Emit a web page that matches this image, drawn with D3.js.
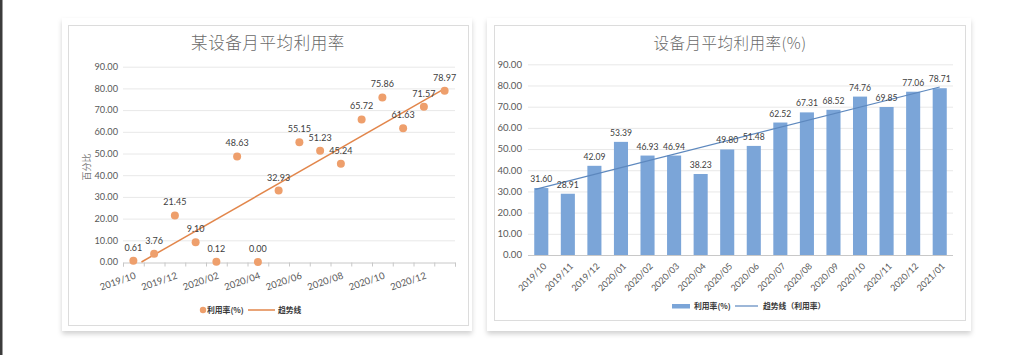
<!DOCTYPE html>
<html><head><meta charset="utf-8">
<script src="https://cdn.jsdelivr.net/npm/d3@7"></script>
<style>
html,body{margin:0;padding:0;background:#fff;}
svg{display:block;}
</style></head>
<body>
<svg id="c" width="1024" height="355"></svg>
<script>
// ---------- data ----------
const monthsLeft = ["2019/10","2019/11","2019/12","2020/01","2020/02","2020/03","2020/04","2020/05","2020/06","2020/07","2020/08","2020/09","2020/10","2020/11","2020/12","2021/01"];
const leftValues = [0.61,3.76,21.45,9.10,0.12,48.63,0.00,32.93,55.15,51.23,45.24,65.72,75.86,61.63,71.57,78.97];
const leftTickLabels = ["2019/10","2019/12","2020/02","2020/04","2020/06","2020/08","2020/10","2020/12"];
const monthsRight = ["2019/10","2019/11","2019/12","2020/01","2020/02","2020/03","2020/04","2020/05","2020/06","2020/07","2020/08","2020/09","2020/10","2020/11","2020/12","2021/01"];
const rightValues = [31.60,28.91,42.09,53.39,46.93,46.94,38.23,49.80,51.48,62.52,67.31,68.52,74.76,69.85,77.06,78.71];
const yTicks = [0,10,20,30,40,50,60,70,80,90];
const leftTitle = "某设备月平均利用率";
const rightTitle = "设备月平均利用率(%)";
const leftYTitle = "百分比";
const leftLegend = ["利用率(%)","趋势线"];
const rightLegend = ["利用率(%)","趋势线（利用率）"];

// ---------- helpers ----------
function regression(vals){
  const n = vals.length;
  const xs = vals.map((v,i)=>i+1);
  const mx = d3.mean(xs), my = d3.mean(vals);
  let sxy=0, sxx=0;
  vals.forEach((v,i)=>{ sxy += (xs[i]-mx)*(v-my); sxx += (xs[i]-mx)*(xs[i]-mx); });
  const b = sxy/sxx, a = my - b*mx;
  return x => a + b*x;  // x is 1-based index
}
const NUM = "Lato, 'Noto Sans', sans-serif";
const CJK = "'Noto Sans CJK SC', 'Noto Sans', sans-serif";

const svg = d3.select("#c");
const defs = svg.append("defs");
const f = defs.append("filter").attr("id","sh").attr("x","-5%").attr("y","-5%").attr("width","110%").attr("height","115%");
f.append("feDropShadow").attr("dx",0).attr("dy",3).attr("stdDeviation",2.5).attr("flood-color","#000").attr("flood-opacity",0.18);

// left dark strip
svg.append("rect").attr("x",0).attr("y",0).attr("width",2.5).attr("height",355).attr("fill","#3c3c3c");

// cards
function card(ox,oy,ow,oh, ix,iy,iw,ih){
  svg.append("rect").attr("x",ox).attr("y",oy).attr("width",ow).attr("height",oh).attr("fill","#fff").attr("filter","url(#sh)");
  svg.append("rect").attr("x",ix+0.5).attr("y",iy+0.5).attr("width",iw).attr("height",ih).attr("fill","#fff").attr("stroke","#dcdcdc").attr("stroke-width",1);
}
card(62,18,410,313, 68,25,400,300);
card(487,18,484,313, 494,25,471,295);

// ================= LEFT CHART =================
{
  const g = svg.append("g");
  const x = d3.scaleLinear().domain([0,16]).range([123,455]);
  const y = d3.scaleLinear().domain([0,90]).range([262,66.7]);

  g.append("text").attr("x",268).attr("y",49).attr("text-anchor","middle")
    .attr("font-family",CJK).attr("font-size",16.5).attr("fill","#6a6a6a").attr("font-weight",300)
    .attr("letter-spacing",0.6).text(leftTitle);

  // grid
  g.selectAll(".gl").data(yTicks.filter(d=>d>0)).join("line")
    .attr("x1",x(0)).attr("x2",x(16)).attr("y1",d=>y(d)+0.5).attr("y2",d=>y(d)+0.5)
    .attr("stroke","#e8e8e8").attr("stroke-width",1);

  // y labels
  g.selectAll(".yl").data(yTicks).join("text")
    .attr("x",118).attr("y",d=>y(d)+3.3).attr("text-anchor","end")
    .attr("font-family",NUM).attr("font-size",9.2).attr("fill","#595959").text(d=>d.toFixed(2));

  // y title
  g.append("text").attr("transform","translate(90,167) rotate(-90)").attr("text-anchor","middle")
    .attr("font-family",CJK).attr("font-size",9).attr("fill","#7a7a7a").text(leftYTitle);

  // x axis
  const xAxis = d3.axisBottom(x).tickValues(d3.range(0,17)).tickSize(4).tickFormat("");
  const ax = g.append("g").attr("transform",`translate(0,${y(0)+0.5})`).call(xAxis);
  ax.select(".domain").attr("stroke","#c8c8c8");
  ax.selectAll(".tick line").attr("stroke","#c8c8c8");

  // x labels
  leftTickLabels.forEach(lbl=>{
    const i = monthsLeft.indexOf(lbl);
    const cx = x(i+0.5)+1, cy = y(0)+10;
    g.append("text").attr("transform",`translate(${cx},${cy}) rotate(-19)`)
      .attr("text-anchor","end").attr("dy","0.7em")
      .attr("font-family",NUM).attr("font-size",9.5).attr("fill","#595959").text(lbl);
  });

  // trendline (clipped at 0)
  const t = regression(leftValues);
  let x0 = 1; if (t(1) < 0) { const b = t(2)-t(1); x0 = 1 - t(1)/b; }
  const xStart = x(x0-0.5), xEnd = x(16-0.5);
  g.append("line").attr("x1",xStart).attr("y1",y(Math.max(0,t(x0)))).attr("x2",xEnd).attr("y2",y(t(16)))
    .attr("stroke","#E2864B").attr("stroke-width",1.5);

  // points
  g.selectAll(".pt").data(leftValues).join("circle")
    .attr("cx",(d,i)=>x(i+0.5)).attr("cy",d=>y(d)).attr("r",4).attr("fill","#EE9F6C");

  // labels
  g.selectAll(".dl").data(leftValues).join("text")
    .attr("x",(d,i)=>x(i+0.5)).attr("y",d=>y(d)-10).attr("text-anchor","middle")
    .attr("font-family",NUM).attr("font-size",9).attr("fill","#404040").text(d=>d.toFixed(2));

  // legend
  g.append("circle").attr("cx",203).attr("cy",310).attr("r",3.2).attr("fill","#EE9F6C");
  g.append("text").attr("x",207).attr("y",312.8).attr("font-family",CJK).attr("font-size",7.8).attr("font-weight",700).attr("fill","#3a3a3a").text(leftLegend[0]);
  g.append("line").attr("x1",248).attr("x2",275).attr("y1",310).attr("y2",310).attr("stroke","#E2864B").attr("stroke-width",1.5);
  g.append("text").attr("x",278).attr("y",312.8).attr("font-family",CJK).attr("font-size",7.8).attr("font-weight",700).attr("fill","#3a3a3a").text(leftLegend[1]);
}

// ================= RIGHT CHART =================
{
  const g = svg.append("g");
  const x = d3.scaleBand().domain(monthsRight).range([528,953]).paddingInner(0.47).paddingOuter(0.235);
  const y = d3.scaleLinear().domain([0,90]).range([255,64.3]);

  g.append("text").attr("x",730).attr("y",49).attr("text-anchor","middle")
    .attr("font-family",CJK).attr("font-size",15.5).attr("fill","#6a6a6a").attr("font-weight",300)
    .attr("letter-spacing",0.5).text(rightTitle);

  g.selectAll(".gl").data(yTicks.filter(d=>d>0)).join("line")
    .attr("x1",528).attr("x2",953).attr("y1",d=>y(d)+0.5).attr("y2",d=>y(d)+0.5)
    .attr("stroke","#e8e8e8").attr("stroke-width",1);

  g.selectAll(".yl").data(yTicks).join("text")
    .attr("x",522).attr("y",d=>y(d)+3.3).attr("text-anchor","end")
    .attr("font-family",NUM).attr("font-size",9.6).attr("fill","#595959").text(d=>d.toFixed(2));

  // bars
  g.selectAll(".bar").data(rightValues).join("rect")
    .attr("x",(d,i)=>x(monthsRight[i])).attr("width",x.bandwidth())
    .attr("y",d=>y(d)).attr("height",d=>y(0)-y(d)).attr("fill","#7BA5D8");

  // axis
  g.append("line").attr("x1",528).attr("x2",953).attr("y1",y(0)+0.5).attr("y2",y(0)+0.5).attr("stroke","#c8c8c8");

  // x labels
  monthsRight.forEach(m=>{
    const cx = x(m)+x.bandwidth()/2+2, cy = y(0)+8;
    g.append("text").attr("transform",`translate(${cx},${cy}) rotate(-45)`)
      .attr("text-anchor","end").attr("dy","0.6em")
      .attr("font-family",NUM).attr("font-size",9).attr("fill","#595959").text(m);
  });

  // trendline
  const t = regression(rightValues);
  const c = i => x(monthsRight[i])+x.bandwidth()/2;
  g.append("line").attr("x1",c(0)-6).attr("y1",y(t(1)-0.75)).attr("x2",c(15)).attr("y2",y(t(16)))
    .attr("stroke","#5D88BE").attr("stroke-width",1.2);

  // labels
  g.selectAll(".dl").data(rightValues).join("text")
    .attr("x",(d,i)=>c(i)).attr("y",d=>y(d)-6).attr("text-anchor","middle")
    .attr("font-family",NUM).attr("font-size",8.6).attr("fill","#404040").text(d=>d.toFixed(2));

  // legend
  g.append("rect").attr("x",672).attr("y",304).attr("width",18).attr("height",4.5).attr("fill","#7BA5D8");
  g.append("text").attr("x",694).attr("y",308.8).attr("font-family",CJK).attr("font-size",7.8).attr("font-weight",700).attr("fill","#3a3a3a").text(rightLegend[0]);
  g.append("line").attr("x1",735).attr("x2",758).attr("y1",306).attr("y2",306).attr("stroke","#5D88BE").attr("stroke-width",1.2);
  g.append("text").attr("x",763).attr("y",308.8).attr("font-family",CJK).attr("font-size",7.8).attr("font-weight",700).attr("fill","#3a3a3a").text(rightLegend[1]);
}
</script>
</body></html>
